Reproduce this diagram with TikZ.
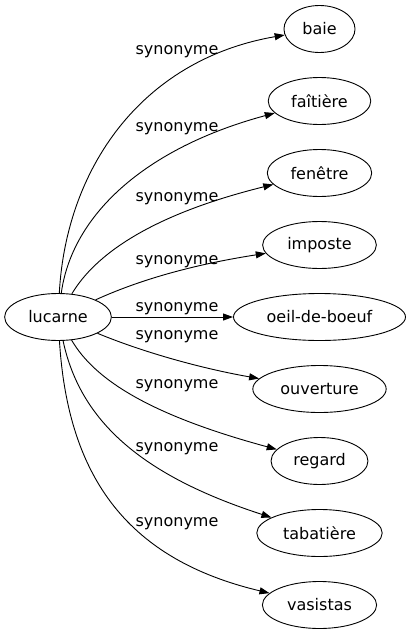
\documentclass[tikz,border=0pt]{standalone}
\usepackage{fontspec}
\setmainfont{DejaVu Sans}
\usetikzlibrary{arrows.meta,positioning,shapes.geometric}

\begin{document}
\begin{tikzpicture}[x=1pt, y=-1pt, >={Triangle[length=10pt, width=7pt]},
    every node/.style={font=\fontsize{16}{19}\selectfont},
    word/.style={draw, ellipse, line width=0.9pt, inner xsep=8pt,
        inner ysep=2pt, minimum height=47pt},
    rel/.style={anchor=base, inner sep=0pt},
    link/.style={->, line width=0.9pt}]
\useasboundingbox (0,0) rectangle (409,635);

\node[word] (lucarne) at (58,317) {lucarne};

% la colonne de droite, de haut en bas
\node[word] (baie) at (319.5,29) {baie};
\node[word, below=24.1pt of baie] (faitiere) {faîtière};
\node[word, below=24.1pt of faitiere] (fenetre) {fenêtre};
\node[word, below=24.1pt of fenetre] (imposte) {imposte};
\node[word, below=24.1pt of imposte] (oeil) {oeil-de-boeuf};
\node[word, below=24.1pt of oeil] (ouverture) {ouverture};
\node[word, below=24.1pt of ouverture] (regard) {regard};
\node[word, below=24.1pt of regard] (tabatiere) {tabatière};
\node[word, below=24.1pt of tabatiere] (vasistas) {vasistas};

\node[rel] (s1) at (177,54) {synonyme};
\node[rel] (s2) at (177,131) {synonyme};
\node[rel] (s3) at (177,201) {synonyme};
\node[rel] (s4) at (177,264) {synonyme};
\node[rel] (s5) at (177,311) {synonyme};
\node[rel] (s6) at (177,339) {synonyme};
\node[rel] (s7) at (177,388) {synonyme};
\node[rel] (s8) at (177,451) {synonyme};
\node[rel] (s9) at (177,526) {synonyme};

\draw[link] (lucarne) .. controls (66,170) and (140,60) .. (baie);
\draw[link] (lucarne) .. controls (72,215) and (145,148) .. (faitiere);
\draw[link] (lucarne) .. controls (95,255) and (150,215) .. (fenetre);
\draw[link] (lucarne) .. controls (150,275) and (210,262) .. (imposte);
\draw[link] (lucarne) -- (oeil);
\draw[link] (lucarne) .. controls (150,355) and (210,370) .. (ouverture);
\draw[link] (lucarne) .. controls (95,380) and (150,415) .. (regard);
\draw[link] (lucarne) .. controls (80,420) and (140,475) .. (tabatiere);
\draw[link] (lucarne) .. controls (68,480) and (130,560) .. (vasistas);
\end{tikzpicture}
\end{document}
